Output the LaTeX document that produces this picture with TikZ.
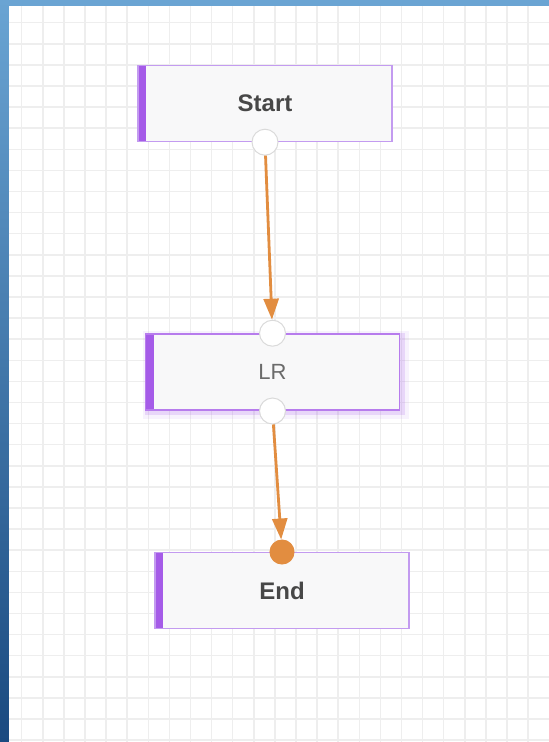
\documentclass[tikz,border=0pt]{standalone}
\usepackage{fontspec}
\setmainfont{Liberation Sans}
\usepackage{tikz}
\usetikzlibrary{positioning, arrows.meta}
\definecolor{framebluetop}{HTML}{6AA4D3}
\definecolor{frameblueend}{HTML}{1A4A80}
\definecolor{gridgray}{HTML}{EEEEEE}
\definecolor{boxfill}{HTML}{F8F8F9}
\definecolor{boxline}{HTML}{C39BF0}
\definecolor{barpurple}{HTML}{A55BE8}
\definecolor{flowrange}{HTML}{E28D40}
\definecolor{portline}{HTML}{DADADA}
\definecolor{labeldark}{HTML}{474747}
\definecolor{labellight}{HTML}{6B6B6B}
\tikzset{
x=1pt, y=-1pt, % one unit is one pixel, y runs downwards
gridline/.style={gridgray, line width=1.5pt}, % the background squares
box/.style={rectangle, draw=boxline, line width=1.4pt, fill=boxfill,
  minimum width=254pt, minimum height=76pt, font=\fontsize{24}{28}\selectfont\bfseries, text=labeldark,
  path picture={\fill[barpurple] (path picture bounding box.north west)
    rectangle ([xshift=8pt]path picture bounding box.south west);}}, % every step of the flow
glow/.style={preaction={draw=barpurple, line width=12pt, draw opacity=0.08,
    transform canvas={xshift=3pt, yshift=-3pt}},
  preaction={draw=barpurple, line width=6pt, draw opacity=0.18,
    transform canvas={xshift=2pt, yshift=-2pt}}}, % the selected step
port/.style={circle, draw=portline, line width=1pt, fill=white, minimum size=26pt, inner sep=0pt}, % in and out handles
flow/.style={-{Triangle[length=21pt, width=15pt]}, flowrange, line width=2.8pt}, % the links
}
\begin{document}
\begin{tikzpicture}
% frame and grid
\useasboundingbox (0,0) rectangle (549,742);
\fill[framebluetop] (0,0) rectangle (549,6);
\shade[top color=framebluetop, bottom color=frameblueend] (0,0) rectangle (9,742);
\fill[white] (9,6) rectangle (549,742);
\foreach \i in {0,...,24}
  \draw[gridline] ({21.7+21.1*\i},6) -- ({21.7+21.1*\i},742);
\foreach \j in {0,...,34}
  \draw[gridline] (9,{22.7+21.1*\j}) -- (549,{22.7+21.1*\j});

% steps
\node[box] (start) at (265,103.5) {Start};
\node[box, glow, draw=barpurple!80, line width=1.8pt, below=191pt of start, xshift=7.5pt,
  font=\fontsize{22}{26}\selectfont, text=labellight] (lr) {LR};
\node[box, below=141pt of lr, xshift=9.5pt] (end) {End};

% handles
\node[port] (start-out) at (start.south) {};
\node[port] (lr-in) at (lr.north) {};
\node[port] (lr-out) at (lr.south) {};
\node[port, draw=flowrange, fill=flowrange, minimum size=24pt] (end-in) at (end.north) {};

% links
\draw[flow] (start-out) -- (lr-in);
\draw[flow] (lr-out) -- (end-in);
\end{tikzpicture}
\end{document}
